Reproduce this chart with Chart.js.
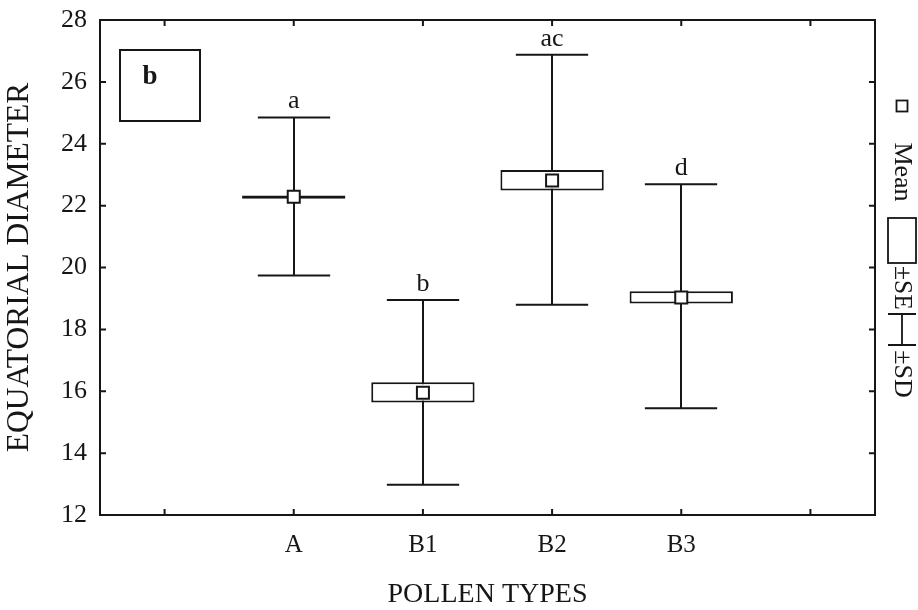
<!DOCTYPE html>
<html>
<head>
<meta charset="utf-8">
<script src="https://cdn.jsdelivr.net/npm/chart.js@4/dist/chart.umd.min.js"></script>
<style>
  html, body { margin: 0; padding: 0; background: #ffffff; }
  #wrap { width: 918px; height: 610px; }
</style>
</head>
<body>
<div id="wrap"><canvas id="c" width="918" height="610"></canvas></div>
<script>
// ---- data ----
const categories = ['', 'A', 'B1', 'B2', 'B3', ''];
const means  = [null, 22.29, 15.95, 22.81, 19.03, null];
const seLow  = [null, 22.22, 15.64, 22.49, 18.84, null];
const seHigh = [null, 22.33, 16.29, 23.15, 19.23, null];
const sdLow  = [null, 19.74, 12.98, 18.80, 15.45, null];
const sdHigh = [null, 24.85, 18.95, 26.88, 22.69, null];
const groupLetters = ['', 'a', 'b', 'ac', 'd', ''];
const yTickValues = [12, 14, 16, 18, 20, 22, 24, 26, 28];
const panelLabel = 'b';
const yTitle = 'EQUATORIAL DIAMETER';
const xTitle = 'POLLEN TYPES';
const legendLabels = ['Mean', '\u00B1SE', '\u00B1SD'];

// ---- style ----
const INK = '#161616';
const SERIF = "'Liberation Serif', 'Times New Roman', Times, serif";
const WHISKER_FRAC = 0.56;

const seRanges = categories.map((c, i) => seLow[i] == null ? null : [seLow[i], seHigh[i]]);

const boxPlugin = {
  id: 'boxPlot',
  beforeDatasetsDraw(chart) {
    const { ctx, scales: { x, y } } = chart;
    const half = (x.getPixelForValue(1) - x.getPixelForValue(0)) * WHISKER_FRAC / 2;
    ctx.save();
    ctx.strokeStyle = INK;
    ctx.lineWidth = 2;
    categories.forEach((c, i) => {
      if (sdLow[i] == null) return;
      const px = Math.round(x.getPixelForValue(i));
      const yt = y.getPixelForValue(sdHigh[i]);
      const yb = y.getPixelForValue(sdLow[i]);
      ctx.beginPath();
      ctx.moveTo(px, yt); ctx.lineTo(px, yb);
      ctx.moveTo(px - half, yt); ctx.lineTo(px + half, yt);
      ctx.moveTo(px - half, yb); ctx.lineTo(px + half, yb);
      ctx.stroke();
    });
    ctx.restore();
  },
  afterDatasetsDraw(chart) {
    const { ctx, scales: { x, y } } = chart;
    ctx.save();
    ctx.fillStyle = INK;
    ctx.font = '26px ' + SERIF;
    ctx.textAlign = 'center';
    ctx.textBaseline = 'alphabetic';
    categories.forEach((c, i) => {
      if (!groupLetters[i]) return;
      ctx.fillText(groupLetters[i], x.getPixelForValue(i), y.getPixelForValue(sdHigh[i]) - 9);
    });
    ctx.restore();
  },
  afterDraw(chart) {
    const { ctx, chartArea: a, scales: { x, y } } = chart;
    ctx.save();
    ctx.strokeStyle = INK;
    ctx.lineWidth = 2;
    // frame
    ctx.strokeRect(a.left, a.top, a.right - a.left, a.bottom - a.top);
    // inside ticks
    const TL = 6;
    ctx.beginPath();
    y.ticks.forEach(t => {
      const py = y.getPixelForValue(t.value);
      ctx.moveTo(a.left, py); ctx.lineTo(a.left + TL, py);
      ctx.moveTo(a.right, py); ctx.lineTo(a.right - TL, py);
    });
    categories.forEach((c, i) => {
      const px = x.getPixelForValue(i);
      ctx.moveTo(px, a.top); ctx.lineTo(px, a.top + TL);
      ctx.moveTo(px, a.bottom); ctx.lineTo(px, a.bottom - TL);
    });
    ctx.stroke();

    // panel label box
    ctx.strokeRect(a.left + 20, a.top + 30, 80, 71);
    ctx.fillStyle = INK;
    ctx.font = 'bold 27px ' + SERIF;
    ctx.textAlign = 'center';
    ctx.textBaseline = 'middle';
    ctx.fillText(panelLabel, a.left + 50, a.top + 57);

    // rotated legend on the right
    const cx = a.right + 27;
    ctx.lineWidth = 1.8;
    ctx.strokeRect(cx - 5.5, 100.5, 11, 11);           // mean marker
    ctx.strokeRect(cx - 14, 218, 28, 45);               // SE box
    ctx.beginPath();                                    // SD whisker
    ctx.moveTo(cx - 14, 314); ctx.lineTo(cx + 14, 314);
    ctx.moveTo(cx, 314); ctx.lineTo(cx, 345);
    ctx.moveTo(cx - 14, 345); ctx.lineTo(cx + 14, 345);
    ctx.stroke();
    const texts = [[legendLabels[0], 172, 26], [legendLabels[1], 288, 25.5], [legendLabels[2], 374, 26]];
    texts.forEach(([t, cy, fs]) => {
      ctx.save();
      ctx.font = fs + 'px ' + SERIF;
      ctx.translate(cx, cy);
      ctx.rotate(Math.PI / 2);
      ctx.textAlign = 'center';
      ctx.textBaseline = 'middle';
      ctx.fillText(t, 0, 0);
      ctx.restore();
    });
    ctx.restore();
  }
};

new Chart(document.getElementById('c'), {
  type: 'bar',
  data: {
    labels: categories,
    datasets: [
      {
        type: 'line',
        label: 'Mean',
        data: means,
        showLine: false,
        pointStyle: 'rect',
        pointRadius: 8.5,
        pointBorderWidth: 2,
        pointBackgroundColor: '#ffffff',
        pointBorderColor: INK,
        order: 0
      },
      {
        type: 'bar',
        label: '\u00B1SE',
        data: seRanges,
        backgroundColor: '#ffffff',
        borderColor: INK,
        borderWidth: 2,
        borderSkipped: false,
        categoryPercentage: 0.8,
        barPercentage: 1.0,
        order: 1
      }
    ]
  },
  options: {
    responsive: false,
    animation: false,
    devicePixelRatio: 1,
    layout: { padding: { top: 20, right: 43, bottom: 0, left: 0 } },
    plugins: { legend: { display: false }, tooltip: { enabled: false } },
    scales: {
      x: {
        type: 'category',
        offset: true,
        grid: { display: false, drawTicks: false },
        border: { display: false },
        ticks: { color: INK, font: { family: SERIF, size: 25 }, padding: 15, autoSkip: false, maxRotation: 0 },
        title: { display: true, text: xTitle, color: INK, font: { family: SERIF, size: 28, lineHeight: 1 }, padding: { top: 0, bottom: 1 } },
        afterFit(scale) { scale.height = 95; scale.paddingLeft = 0; scale.paddingRight = 0; }
      },
      y: {
        min: 12, max: 28,
        afterBuildTicks(scale) { scale.ticks = yTickValues.map(v => ({ value: v })); },
        grid: { display: false, drawTicks: false },
        border: { display: false },
        ticks: { color: INK, font: { family: SERIF, size: 26 }, padding: 13 },
        title: { display: true, text: yTitle, color: INK, font: { family: SERIF, size: 31.5, lineHeight: 1 }, padding: { top: 4, bottom: 0 } },
        afterFit(scale) { scale.width = 100; scale.paddingTop = 0; scale.paddingBottom = 0; }
      }
    }
  },
  plugins: [boxPlugin]
});
</script>
</body>
</html>
